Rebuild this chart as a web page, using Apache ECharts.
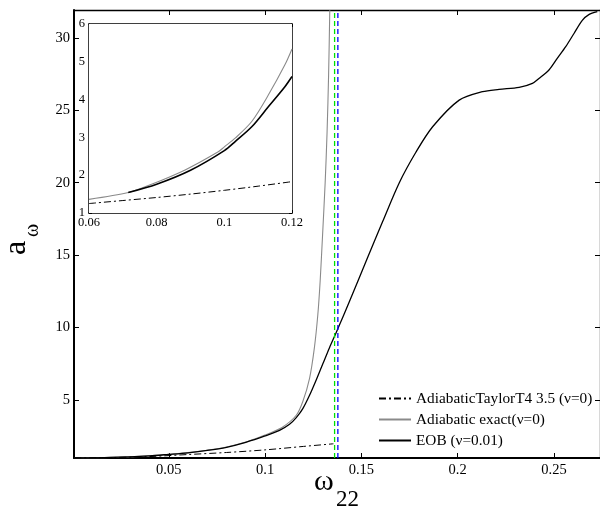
<!DOCTYPE html>
<html>
<head>
<meta charset="utf-8">
<script src="https://cdn.jsdelivr.net/npm/echarts@6/dist/echarts.min.js"></script>
<style>html,body{margin:0;padding:0;background:#fff}#c{width:600px;height:506px}</style>
</head>
<body>
<div id="c"></div>
<script>
// ---- main panel data ----
var eobX   = [0.001,0.02,0.04,0.05,0.06,0.07,0.08,0.09,0.1,0.1075,0.1127,0.1162,0.1196,0.1231,0.1265,0.13,0.1334,0.1369,0.1403,0.1438,0.1533,0.161,0.1697,0.1783,0.187,0.2008,0.2129,0.2215,0.2319,0.2388,0.2422,0.2474,0.2517,0.2561,0.2604,0.2647,0.2681,0.2725];
var eobY   = [1.0,1.04,1.15,1.25,1.36,1.52,1.74,2.08,2.52,2.91,3.33,3.79,4.41,5.33,6.37,7.5,8.6,9.65,10.7,11.8,14.85,17.3,20.0,22.1,23.86,25.7,26.28,26.44,26.58,26.86,27.2,27.78,28.58,29.39,30.3,31.2,31.6,31.8];
var adiaX  = [0.001,0.02,0.04,0.05,0.06,0.07,0.08,0.09,0.1,0.1023,0.1092,0.1162,0.1196,0.1231,0.1256,0.1274,0.1286,0.1299,0.1312,0.1322,0.133,0.1336];
var adiaY  = [1.0,1.04,1.15,1.25,1.37,1.54,1.76,2.1,2.58,2.7,3.14,3.95,4.9,6.5,8.6,10.9,13.2,16.5,20.0,23.5,27.5,31.9];
var t4X    = [0.001,0.02,0.04,0.06,0.08,0.1,0.12,0.1355];
var t4Y    = [1.0,1.03,1.1,1.24,1.38,1.56,1.8,1.98];
var lsoX   = 0.1361;   // green dashed
var lrX    = 0.1378;   // blue dashed
var mainXTicks = [0.05,0.1,0.15,0.2,0.25];
var mainYTicks = [5,10,15,20,25,30];
// ---- inset data ----
var inAdiaX = [0.06,0.0716,0.0785,0.0884,0.0982,0.1,0.1032,0.1081,0.113,0.1179,0.12];
var inAdiaY = [1.36,1.54,1.76,2.14,2.62,2.75,2.98,3.42,4.12,4.92,5.34];
var inEobX  = [0.0716,0.08,0.09,0.1,0.1032,0.1081,0.113,0.1179,0.12];
var inEobY  = [1.54,1.76,2.13,2.65,2.89,3.28,3.81,4.34,4.61];
var inT4X   = [0.06,0.07,0.08,0.09,0.1,0.11,0.12];
var inT4Y   = [1.25,1.33,1.41,1.5,1.6,1.71,1.83];
var inXTicks = [0.06,0.08,0.1,0.12];

var NAME_T4 = 'AdiabaticTaylorT4 3.5 (\u03bd=0)';
var NAME_AD = 'Adiabatic exact(\u03bd=0)';
var NAME_EOB = 'EOB (\u03bd=0.01)';
var FONT = 'Liberation Serif';

function zip(a,b){return a.map(function(v,i){return [v,b[i]];});}
function fmt(v){return String(+(+v).toFixed(3));}

var chart = echarts.init(document.getElementById('c'), null, {renderer:'canvas'});

var option = {
  animation:false,
  backgroundColor:'#fff',
  textStyle:{fontFamily:FONT,color:'#000'},
  grid:[
    {left:74, top:10, width:527, height:448, containLabel:false},
    {left:89, top:24, width:203, height:189, show:true, backgroundColor:'#fff', borderWidth:0, z:5}
  ],
  legend:{
    orient:'vertical', left:378, top:391, itemWidth:32, itemHeight:15, itemGap:6, padding:0,
    textStyle:{fontFamily:FONT, fontSize:15.3, color:'#000'},
    itemStyle:{color:'rgba(0,0,0,0)', borderWidth:0, opacity:0},
    data:[NAME_T4, NAME_AD, NAME_EOB], backgroundColor:'transparent', borderWidth:0
  },
  xAxis:[
    {gridIndex:0, type:'value', min:0.0008, max:0.2739, position:'bottom',
     axisLine:{show:true,onZero:false,lineStyle:{color:'#000',width:2}},
     axisTick:{show:true,inside:true,length:5,customValues:mainXTicks,lineStyle:{color:'#000',width:1}},
     axisLabel:{customValues:mainXTicks,fontFamily:FONT,fontSize:14.5,color:'#000',margin:5,formatter:fmt},
     splitLine:{show:false}},
    {gridIndex:1, type:'value', min:0.06, max:0.12, position:'bottom',
     axisLine:{show:true,onZero:false,lineStyle:{color:'#000',width:1.5}},
     axisTick:{show:true,inside:true,length:3,customValues:inXTicks,lineStyle:{color:'#000',width:1}},
     axisLabel:{customValues:inXTicks,fontFamily:FONT,fontSize:12.5,color:'#000',margin:3,formatter:fmt},
     splitLine:{show:false}},
    {gridIndex:0, type:'value', min:0.0008, max:0.2739, position:'top',
     axisLine:{show:true,onZero:false,lineStyle:{color:'#000',width:1.3}},
     axisTick:{show:true,inside:true,length:5,customValues:mainXTicks,lineStyle:{color:'#000',width:1}},
     axisLabel:{show:false}, splitLine:{show:false}},
    {gridIndex:1, type:'value', min:0.06, max:0.12, position:'top',
     axisLine:{show:true,onZero:false,lineStyle:{color:'#000',width:1.5}},
     axisTick:{show:true,inside:true,length:3,customValues:inXTicks,lineStyle:{color:'#000',width:1}},
     axisLabel:{show:false}, splitLine:{show:false}}
  ],
  yAxis:[
    {gridIndex:0, type:'value', min:1, max:31.92, position:'left',
     axisLine:{show:true,onZero:false,lineStyle:{color:'#000',width:2}},
     axisTick:{show:true,inside:true,length:5,customValues:mainYTicks,lineStyle:{color:'#000',width:1}},
     axisLabel:{customValues:mainYTicks,fontFamily:FONT,fontSize:14.5,color:'#000',margin:4},
     splitLine:{show:false}},
    {gridIndex:1, type:'value', min:1, max:6, interval:1, position:'left',
     axisLine:{show:true,onZero:false,lineStyle:{color:'#000',width:1.5}},
     axisTick:{show:true,inside:true,length:3,lineStyle:{color:'#000',width:1}},
     axisLabel:{fontFamily:FONT,fontSize:12.5,color:'#000',margin:4},
     splitLine:{show:false}},
    {gridIndex:0, type:'value', min:1, max:31.92, position:'right',
     axisLine:{show:true,onZero:false,lineStyle:{color:'#000',width:1.3}},
     axisTick:{show:true,inside:true,length:5,customValues:mainYTicks,lineStyle:{color:'#000',width:1}},
     axisLabel:{show:false}, splitLine:{show:false}},
    {gridIndex:1, type:'value', min:1, max:6, interval:1, position:'right',
     axisLine:{show:true,onZero:false,lineStyle:{color:'#000',width:1.5}},
     axisTick:{show:true,inside:true,length:3,lineStyle:{color:'#000',width:1}},
     axisLabel:{show:false}, splitLine:{show:false}}
  ],
  series:[
    {name:NAME_AD, type:'line', xAxisIndex:0, yAxisIndex:0, data:zip(adiaX,adiaY), symbol:'none',
     smooth:0.3, lineStyle:{color:'#8a8a8a',width:1.1}, itemStyle:{color:'#8a8a8a'}, z:2},
    {name:NAME_EOB, type:'line', xAxisIndex:0, yAxisIndex:0, data:zip(eobX,eobY), symbol:'none',
     smooth:0.3, lineStyle:{color:'#000',width:1.3}, itemStyle:{color:'#000'}, z:3},
    {name:NAME_T4, type:'line', xAxisIndex:0, yAxisIndex:0, data:zip(t4X,t4Y), symbol:'none',
     smooth:0.3, lineStyle:{color:'#000',width:1,type:[7,3,2,3]}, itemStyle:{color:'#000'}, z:3},
    {name:'LSO', type:'line', xAxisIndex:0, yAxisIndex:0, data:[[lsoX,1],[lsoX,31.92]], symbol:'none',
     lineStyle:{color:'#00e000',width:1.3,type:[5,3]}, z:4, silent:true},
    {name:'LR', type:'line', xAxisIndex:0, yAxisIndex:0, data:[[lrX,1],[lrX,31.92]], symbol:'none',
     lineStyle:{color:'#0000ff',width:1.3,type:[5,3]}, z:4, silent:true},
    {name:NAME_AD, type:'line', xAxisIndex:1, yAxisIndex:1, data:zip(inAdiaX,inAdiaY), symbol:'none',
     smooth:0.3, lineStyle:{color:'#8a8a8a',width:1.1}, itemStyle:{color:'#8a8a8a'}, z:6},
    {name:NAME_EOB, type:'line', xAxisIndex:1, yAxisIndex:1, data:zip(inEobX,inEobY), symbol:'none',
     smooth:0.3, lineStyle:{color:'#000',width:1.6}, itemStyle:{color:'#000'}, z:7},
    {name:NAME_T4, type:'line', xAxisIndex:1, yAxisIndex:1, data:zip(inT4X,inT4Y), symbol:'none',
     smooth:0.3, lineStyle:{color:'#000',width:1,type:[7,3,2,3]}, itemStyle:{color:'#000'}, z:7}
  ],
  graphic:[
    {type:'text', x:17, y:255, rotation:Math.PI/2,
     style:{text:'a', font:'32px "Liberation Serif"', fill:'#000', textAlign:'left', textVerticalAlign:'middle'}},
    {type:'text', x:32.5, y:237, rotation:Math.PI/2,
     style:{text:'\u03c9', font:'20px "Liberation Serif"', fill:'#000', textAlign:'left', textVerticalAlign:'middle'}},
    {type:'text', x:314, y:482,
     style:{text:'\u03c9', font:'30px "Liberation Serif"', fill:'#000', textAlign:'left', textVerticalAlign:'middle'}},
    {type:'text', x:336, y:500,
     style:{text:'22', font:'23px "Liberation Serif"', fill:'#000', textAlign:'left', textVerticalAlign:'middle'}}
  ]
};
chart.setOption(option);
</script>
</body>
</html>
